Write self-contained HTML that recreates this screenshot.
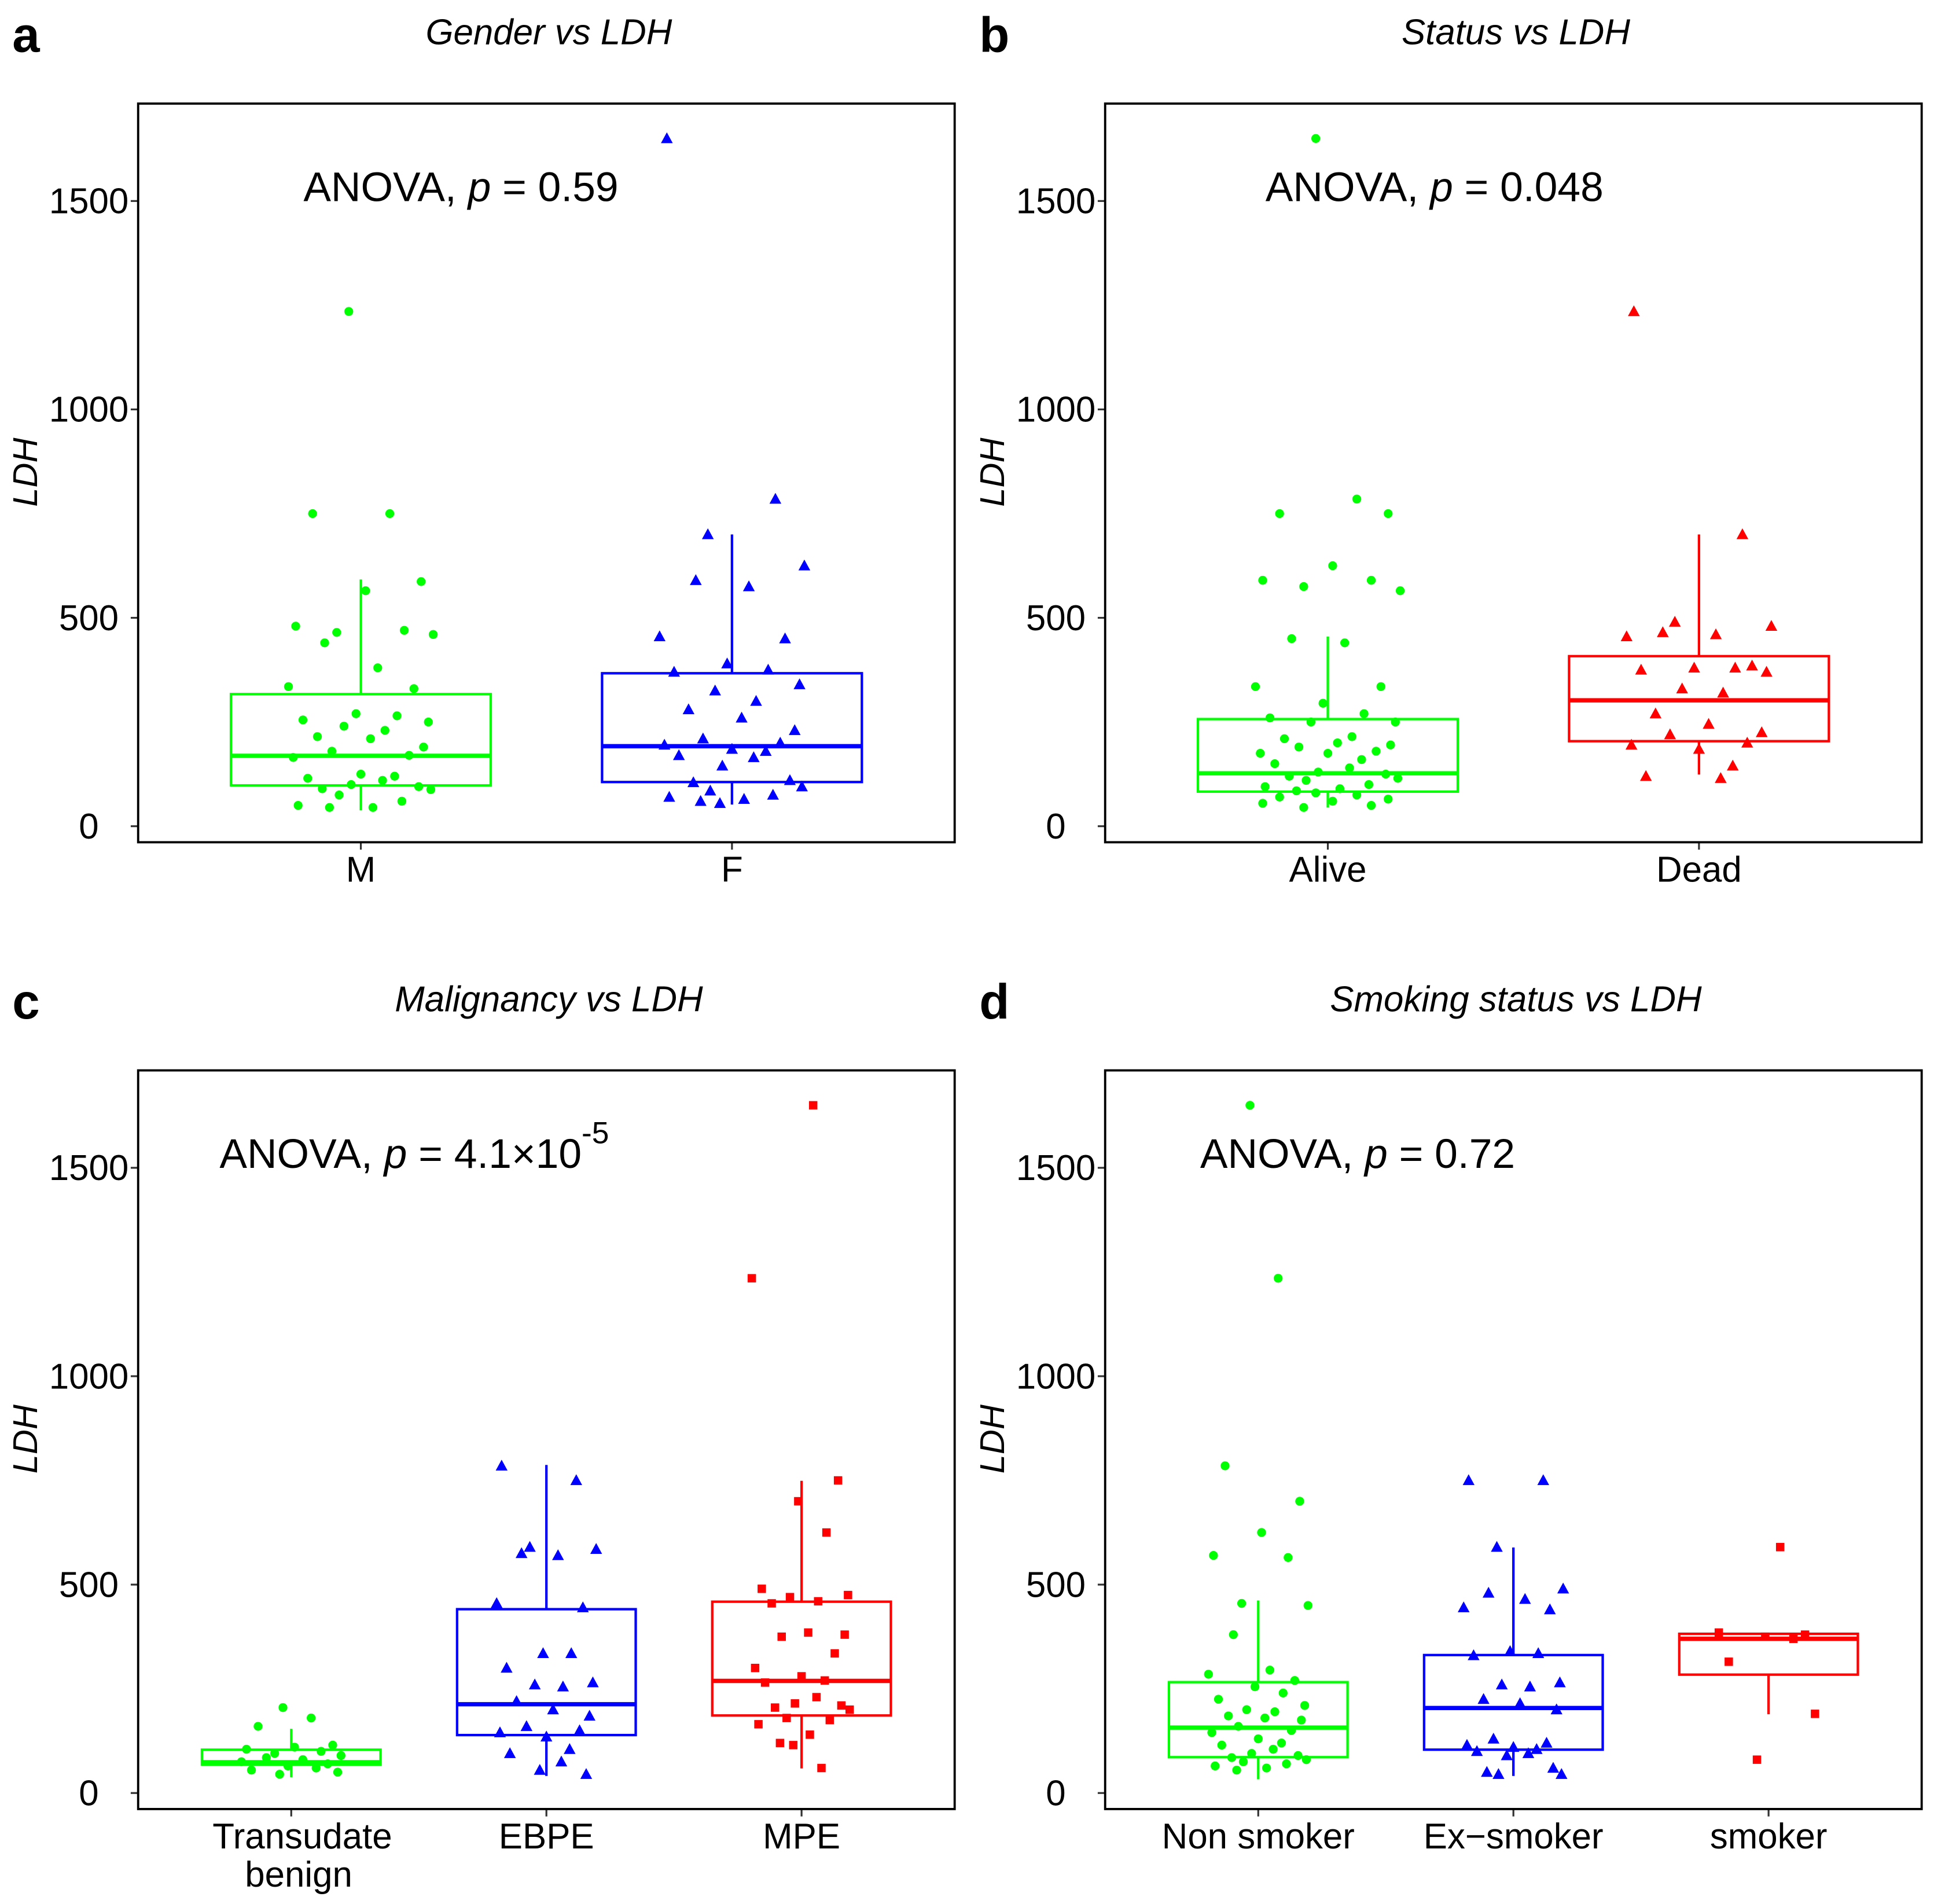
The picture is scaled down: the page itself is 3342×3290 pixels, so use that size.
<!DOCTYPE html>
<html><head><meta charset="utf-8"><style>
html,body{margin:0;padding:0;background:#fff}
svg{display:block}
text{font-family:"Liberation Sans",sans-serif;fill:#000}
</style></head><body>
<svg id="fig" width="3342" height="3290" viewBox="0 0 1568 1544" preserveAspectRatio="none" xmlns="http://www.w3.org/2000/svg"></svg>
<script>
// ---- data ----
const yTicks = [0, 500, 1000, 1500];
const catsA = ["M", "F"];
const catsB = ["Alive", "Dead"];
const catsC = ["Transudate|benign", "EBPE", "MPE"];
const catsD = ["Non smoker", "Ex\u2212smoker", "smoker"];
// box stats: [whiskerLow, q1, median, q3, whiskerHigh]
const boxA = [[38, 98, 169, 317, 592], [52, 106, 192, 367, 700]];
const boxB = [[45, 83, 127, 257, 455], [124, 204, 302, 408, 700]];
const boxC = [[38, 68, 74, 104, 154], [41, 139, 213, 441, 787], [59, 186, 269, 459, 749]];
const boxD = [[33, 86, 157, 266, 462], [41, 104, 204, 331, 589], [189, 284, 370, 382, 385]];
const ptsA = [
 [1235,750,750,587,565,480,470,465,460,440,380,335,330,270,265,255,250,240,230,215,210,190,180,170,165,125,120,115,110,100,95,90,88,75,60,50,45,45],
 [1650,785,700,625,590,575,455,450,390,375,370,340,325,300,280,260,230,210,200,195,185,180,170,165,145,110,105,95,85,75,70,65,60,55]];
const ptsB = [
 [1650,785,750,750,625,590,590,575,565,450,440,335,335,295,270,260,250,250,215,210,200,195,190,180,175,175,160,150,140,130,125,120,115,110,100,95,90,85,80,75,70,65,60,55,50,45],
 [1235,700,490,480,465,460,455,385,380,380,375,370,330,320,270,245,225,220,200,195,185,145,120,115]];
const ptsC = [
 [205,180,160,115,110,105,100,95,90,85,80,75,70,65,60,55,50,45],
 [785,750,590,585,575,570,455,445,335,335,300,265,260,255,220,200,185,160,150,145,135,105,95,75,55,45],
 [1650,1235,750,700,625,490,475,470,460,455,385,380,375,335,300,280,270,265,230,215,210,205,200,180,175,165,140,120,115,60]];
const ptsD = [
 [1650,1235,785,700,625,570,565,455,450,380,295,285,270,255,240,225,210,200,195,185,180,175,160,150,145,130,120,115,105,95,90,85,80,75,70,65,60,55],
 [750,750,590,490,480,465,445,440,340,335,330,265,260,255,225,215,200,130,120,115,110,105,100,95,90,60,50,45,45],
 [590,385,380,375,370,315,190,80]];
const jitter = [-0.05,0.12,-0.2,0.25,0.02,-0.27,0.18,-0.1,0.3,-0.15,0.07,-0.3,0.22,-0.02,0.15,-0.24,0.28,-0.07,0.1,-0.18,0.04,0.26,-0.12,0.2,-0.28,0.0,0.14,-0.22,0.09,-0.04,0.24,-0.16,0.29,-0.09,0.17,-0.26,0.05,-0.13];
const pvals = ["0.59", "0.048", "4.1\u00d710", "0.72"];

const NS = "http://www.w3.org/2000/svg";
const svg = document.getElementById("fig");
function el(tag, attrs, parent) {
  const e = document.createElementNS(NS, tag);
  for (const k in attrs) e.setAttribute(k, attrs[k]);
  (parent || svg).appendChild(e);
  return e;
}
const panels = [
 {L:"a", title:"Gender vs LDH", x0:112, y0:84, cats:catsA, box:boxA, pts:ptsA, ax:246, p:pvals[0], cols:["#00ff00","#0000ff"]},
 {L:"b", title:"Status vs LDH", x0:896, y0:84, cats:catsB, box:boxB, pts:ptsB, ax:1026, p:pvals[1], cols:["#00ff00","#ff0000"]},
 {L:"c", title:"Malignancy vs LDH", x0:112, y0:868, cats:catsC, box:boxC, pts:ptsC, ax:178, p:pvals[2], sup:"-5", cols:["#00ff00","#0000ff","#ff0000"]},
 {L:"d", title:"Smoking status vs LDH", x0:896, y0:868, cats:catsD, box:boxD, pts:ptsD, ax:973, p:pvals[3], cols:["#00ff00","#0000ff","#ff0000"]}
];
panels.forEach((P, pi) => {
  const g = el("g", {});
  
  
  const W = 662, H = 599;
  const y = v => P.y0 + 586 - v / 500 * 169;
  const n = P.cats.length;
  const unit = W / (n + 0.2);
  const x = i => P.x0 + unit * (i + 0.6);
  const lt = el("text", {x: P.x0 - 102, y: P.y0 - 42, "font-size": 40, "font-weight": "bold"}, g);
  lt.textContent = P.L;
  
  
  const tt = el("text", {x: P.x0 + W / 2 + 2, y: P.y0 - 48, "font-size": 29, "font-style": "italic", "text-anchor": "middle"}, g);
  tt.textContent = P.title;
  
  
  yTicks.forEach(t => {
    el("line", {x1: P.x0 - 6, x2: P.x0, y1: y(t), y2: y(t), stroke: "#333", "stroke-width": 1.5}, g);
    const tl = el("text", {x: P.x0 - 40, y: y(t) + 10, "font-size": 29, "text-anchor": "middle"}, g);
    tl.textContent = t;
    
    
  });
  const yl = el("text", {transform: `translate(${P.x0 - 82},${P.y0 + 299}) rotate(-90)`, "font-size": 28, "font-style": "italic", "text-anchor": "middle"}, g);
  yl.textContent = "LDH";
  
  
  P.cats.forEach((c, i) => {
    const col = P.cols[i];
    const cx = x(i);
    el("line", {x1: cx, x2: cx, y1: P.y0 + H, y2: P.y0 + H + 6, stroke: "#333", "stroke-width": 1.5}, g);
    const parts = c.split("|");
    parts.forEach((s, k) => {
      const xl = el("text", {x: cx + (parts.length > 1 ? (k == 1 ? 6 : 9) : 0), y: P.y0 + H + 32 + k * 31, "font-size": 29, "text-anchor": "middle"}, g);
      xl.textContent = s;
      
      
    });
    const b = P.box[i];
    const bw = unit * 0.7;
    const wl = el("line", {x1: cx, x2: cx, y1: y(b[0]), y2: y(b[4]), stroke: col, "stroke-width": 2}, g);
    
    
    const r = el("rect", {x: cx - bw / 2, y: y(b[3]), width: bw, height: y(b[1]) - y(b[3]), fill: "#fff", stroke: col, "stroke-width": 2}, g);
    
    
    const md = el("line", {x1: cx - bw / 2, x2: cx + bw / 2, y1: y(b[2]), y2: y(b[2]), stroke: col, "stroke-width": 3.5}, g);
    
    
    P.pts[i].forEach((v, k) => {
      const px = cx + jitter[(k + i * 5) % jitter.length] * unit * 0.65;
      const py = y(v);
      let m;
      if (i == 0) m = el("circle", {cx: px, cy: py, r: 3.6, fill: col}, g);
      else if (i == 1) m = el("polygon", {points: `${px},${py - 5} ${px - 4.8},${py + 3.8} ${px + 4.8},${py + 3.8}`, fill: col}, g);
      else m = el("rect", {x: px - 3.4, y: py - 3.4, width: 6.8, height: 6.8, fill: col}, g);
      
      
    });
  });
  const fr = el("rect", {x: P.x0, y: P.y0, width: W, height: H, fill: "none", stroke: "#000", "stroke-width": 1.8}, g);
  
  
  const an = el("text", {x: P.ax, y: P.y0 + 79, "font-size": 33.5}, g);
  
  
  an.appendChild(document.createTextNode("ANOVA, "));
  const ip = el("tspan", {"font-style": "italic"}, an); ip.textContent = "p";
  an.appendChild(document.createTextNode(" = " + P.p));
  if (P.sup) { const s = el("tspan", {dy: -20, "font-size": 25}, an); s.textContent = P.sup; }
});
</script>
</body></html>
